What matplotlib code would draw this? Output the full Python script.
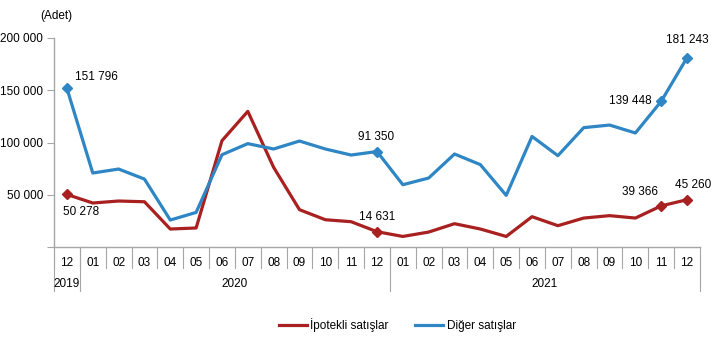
import numpy as np
from matplotlib import pyplot as plt

# monthly counts, 12/2019 .. 12/2021
months = ['12', '01', '02', '03', '04', '05', '06', '07', '08', '09', '10', '11', '12',
          '01', '02', '03', '04', '05', '06', '07', '08', '09', '10', '11', '12']
years = ['2019', '2020', '2021']
year_spans = [(0, 1), (1, 13), (13, 25)]

ipotekli = [50278, 42100, 44000, 43300, 17200, 18200, 101700, 129800, 76200, 35700, 26100, 24200, 14631,
            10100, 14300, 22300, 17200, 10100, 29000, 20400, 27700, 30000, 27700, 39366, 45260]
diger = [151796, 70800, 74600, 65000, 25800, 33100, 88300, 98900, 93800, 101400, 93800, 88000, 91350,
         59600, 66000, 89000, 78800, 49400, 105800, 87400, 114200, 116700, 109100, 139448, 181243]

marked = [0, 12, 23, 24]

RED = '#a8201f'
BLUE = '#2e86c4'
GRID = '#a6a6a6'

plt.rcParams['font.family'] = ['Liberation Sans', 'DejaVu Sans']


def fmt(v):
    return f'{v:,}'.replace(',', ' ')


fig = plt.figure(figsize=(7.13, 3.52), dpi=100)
ax = fig.add_axes([54 / 713, 105 / 352, 646 / 713, 209 / 352])

x = np.arange(len(months))
ax.plot(x, ipotekli, color=RED, lw=2.3, label='İpotekli satışlar', zorder=3)
ax.plot(x, diger, color=BLUE, lw=2.3, label='Diğer satışlar', zorder=3)
ax.plot(x[marked], np.array(ipotekli)[marked], 'D', color=RED, ms=5.5, zorder=4)
ax.plot(x[marked], np.array(diger)[marked], 'D', color=BLUE, ms=5.5, zorder=4)

ax.set_xlim(-0.5, len(months) - 0.5)
ax.set_ylim(0, 200000)
ax.set_yticks([0, 50000, 100000, 150000, 200000])
ax.set_yticklabels(['', '50 000', '100 000', '150 000', '200 000'])
ax.tick_params(axis='y', length=5, color=GRID, labelsize=8.5, pad=3)
ax.set_xticks([])
for s in ['top', 'right']:
    ax.spines[s].set_visible(False)
for s in ['left', 'bottom']:
    ax.spines[s].set_color(GRID)
    ax.spines[s].set_linewidth(1)

# category table below the axis
tr = ax.get_xaxis_transform()
for i, m in enumerate(months):
    ax.text(i, -0.075, m, transform=tr, ha='center', va='center', fontsize=8.5)
    ax.plot([i - 0.5, i - 0.5], [0, -0.1], transform=tr, color=GRID, lw=0.8, clip_on=False)
for (a, b), yr in zip(year_spans, years):
    ax.text((a + b - 1) / 2, -0.175, yr, transform=tr, ha='center', va='center', fontsize=8.5)
    ax.plot([a - 0.5, a - 0.5], [0, -0.21], transform=tr, color=GRID, lw=0.8, clip_on=False)
ax.plot([len(months) - 0.5] * 2, [0, -0.21], transform=tr, color=GRID, lw=0.8, clip_on=False)

# value labels
ax.annotate(fmt(diger[0]), (0, diger[0]), xytext=(6, 4), textcoords='offset points',
            ha='left', va='bottom', fontsize=8.5)
ax.annotate(fmt(ipotekli[0]), (0, ipotekli[0]), xytext=(10, -8), textcoords='offset points',
            ha='center', va='top', fontsize=8.5)
ax.annotate(fmt(diger[12]), (12, diger[12]), xytext=(-1, 6), textcoords='offset points',
            ha='center', va='bottom', fontsize=8.5)
ax.annotate(fmt(ipotekli[12]), (12, ipotekli[12]), xytext=(0, 6), textcoords='offset points',
            ha='center', va='bottom', fontsize=8.5)
ax.annotate(fmt(diger[23]), (23, diger[23]), xytext=(-7, 0), textcoords='offset points',
            ha='right', va='center', fontsize=8.5)
ax.annotate(fmt(ipotekli[23]), (23, ipotekli[23]), xytext=(-15, 6), textcoords='offset points',
            ha='center', va='bottom', fontsize=8.5)
ax.annotate(fmt(diger[24]), (24, diger[24]), xytext=(0, 8), textcoords='offset points',
            ha='center', va='bottom', fontsize=8.5)
ax.annotate(fmt(ipotekli[24]), (24, ipotekli[24]), xytext=(4, 6), textcoords='offset points',
            ha='center', va='bottom', fontsize=8.5)

fig.text(56 / 713, 1 - 16 / 352, '(Adet)', ha='center', va='center', fontsize=8.5)

fig.legend(loc='center', bbox_to_anchor=(0.557, 0.077), ncol=2, frameon=False,
           fontsize=8.5, handlelength=2.4, handletextpad=0.3, columnspacing=2.2)

fig.savefig('out.png', dpi=100)
